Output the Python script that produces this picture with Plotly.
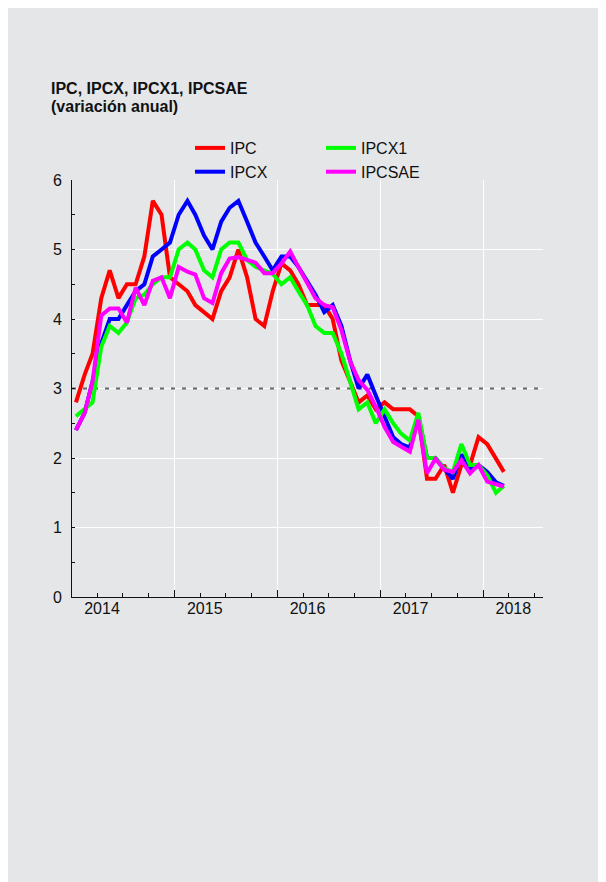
import pandas as pd
import plotly.graph_objects as go

# Monthly data, Jan 2014 - Mar 2018 (annual % change)
months = pd.date_range("2014-01-01", periods=51, freq="MS") + pd.Timedelta(days=14)

ipc = [2.8, 3.2, 3.5, 4.3, 4.7, 4.3, 4.5, 4.5, 4.9, 5.7, 5.5, 4.6,
       4.5, 4.4, 4.2, 4.1, 4.0, 4.4, 4.6, 5.0, 4.6, 4.0, 3.9, 4.4,
       4.8, 4.7, 4.5, 4.2, 4.2, 4.2, 4.0, 3.4, 3.1, 2.8, 2.9, 2.7,
       2.8, 2.7, 2.7, 2.7, 2.6, 1.7, 1.7, 1.9, 1.5, 1.9, 1.9, 2.3,
       2.2, 2.0, 1.8]
ipcx = [2.4, 2.65, 3.1, 3.65, 4.0, 4.0, 4.2, 4.4, 4.5, 4.9, 5.0, 5.1,
        5.5, 5.7, 5.5, 5.2, 5.0, 5.4, 5.6, 5.7, 5.4, 5.1, 4.9, 4.7,
        4.9, 4.9, 4.75, 4.55, 4.35, 4.1, 4.2, 3.9, 3.4, 3.0, 3.2, 2.9,
        2.6, 2.3, 2.2, 2.15, 2.6, 2.0, 2.0, 1.85, 1.7, 2.05, 1.85, 1.9,
        1.8, 1.65, 1.6]
ipcx1 = [2.6, 2.7, 2.8, 3.6, 3.9, 3.8, 3.95, 4.3, 4.35, 4.5, 4.6, 4.6,
         5.0, 5.1, 5.0, 4.7, 4.6, 5.0, 5.1, 5.1, 4.85, 4.75, 4.7, 4.65,
         4.5, 4.6, 4.4, 4.2, 3.9, 3.8, 3.8, 3.5, 3.1, 2.7, 2.8, 2.5,
         2.7, 2.5, 2.35, 2.25, 2.65, 2.0, 2.0, 1.85, 1.8, 2.2, 1.9, 1.9,
         1.75, 1.5, 1.6]
ipcsae = [2.4, 2.65, 3.1, 4.05, 4.15, 4.15, 3.95, 4.45, 4.2, 4.55, 4.6, 4.3,
          4.75, 4.68, 4.64, 4.3, 4.23, 4.66, 4.87, 4.89, 4.85, 4.81, 4.66, 4.66,
          4.8, 4.97, 4.75, 4.52, 4.3, 4.2, 4.17, 3.84, 3.39, 3.12, 2.98, 2.74,
          2.45, 2.23, 2.16, 2.09, 2.55, 1.78, 1.99, 1.83, 1.8, 1.97, 1.78, 1.9,
          1.66, 1.63, 1.59]

year_ticks = ["2014-01-01", "2015-01-01", "2016-01-01", "2017-01-01", "2018-01-01"]
year_labels = ["2014", "2015", "2016", "2017", "2018"]
y_ticks = [0, 1, 2, 3, 4, 5, 6]
x_range = ["2014-01-01", "2018-08-01"]
ref_level = 3

FONT = "Liberation Sans, Arial, sans-serif"
BG = "#e5e6e8"
INK = "#111111"

series = [
    ("IPC", ipc, "#ff0000", "legend"),
    ("IPCX", ipcx, "#0000ff", "legend"),
    ("IPCX1", ipcx1, "#00ff00", "legend2"),
    ("IPCSAE", ipcsae, "#ff00ff", "legend2"),
]

fig = go.Figure()
# reference line at 3% (drawn first so the series sit on top of it)
fig.add_trace(go.Scatter(x=x_range, y=[ref_level, ref_level], mode="lines",
                         line=dict(color="#666666", width=2, dash="4px,7px"),
                         showlegend=False, hoverinfo="skip"))
for name, vals, col, lg in series:
    fig.add_trace(go.Scatter(x=months, y=vals, mode="lines", name=name,
                             line=dict(color=col, width=4), legend=lg))

# figure sits at (8,8) in the page
W, H = 598, 874
L, R, T, B = 64, 63, 172, 285
pw, ph = W - L - R, H - T - B

def px(xp):
    return (xp - L) / pw

def py(yp):
    return (H - B - yp) / ph

fig.update_layout(
    width=W, height=H,
    margin=dict(l=L, r=R, t=T, b=B),
    paper_bgcolor=BG, plot_bgcolor=BG,
    font=dict(family=FONT, size=16, color=INK),
    showlegend=True,
    legend=dict(x=px(182), y=py(123), xanchor="left", yanchor="top",
                bgcolor="rgba(0,0,0,0)", font=dict(size=16), tracegroupgap=0),
    legend2=dict(x=px(313), y=py(123), xanchor="left", yanchor="top",
                 bgcolor="rgba(0,0,0,0)", font=dict(size=16), tracegroupgap=0),
    xaxis=dict(type="date", range=x_range,
               tickvals=year_ticks, ticktext=year_labels, ticklabelshift=30,
               ticklabelstandoff=-3,
               ticks="inside", ticklen=7, tickcolor=INK, tickwidth=1,
               showgrid=True, gridcolor="white", gridwidth=1.2,
               showline=True, linecolor=INK, linewidth=1,
               zeroline=False, tickfont=dict(size=16),
               minor=dict(dtick="M3", tick0="2014-01-01", ticks="inside",
                          ticklen=4, tickcolor=INK, showgrid=False)),
    yaxis=dict(range=[0, 6], tickvals=y_ticks,
               ticks="inside", ticklen=3, tickcolor=INK,
               showgrid=True, gridcolor="white", gridwidth=1.2,
               showline=True, linecolor=INK, linewidth=1,
               zeroline=False, tickfont=dict(size=16), ticklabelstandoff=6,
               minor=dict(dtick=0.5, ticks="inside", ticklen=3,
                          tickcolor=INK, showgrid=False)),
    annotations=[
        dict(text="<b>IPC, IPCX, IPCX1, IPCSAE</b>", xref="paper", yref="paper",
             x=px(41), y=py(70), xanchor="left", yanchor="top", showarrow=False,
             font=dict(size=16, color=INK)),
        dict(text="<b>(variación anual)</b>", xref="paper", yref="paper",
             x=px(41), y=py(88), xanchor="left", yanchor="top", showarrow=False,
             font=dict(size=16, color=INK)),
    ],
)

fig.write_html("out.html")
